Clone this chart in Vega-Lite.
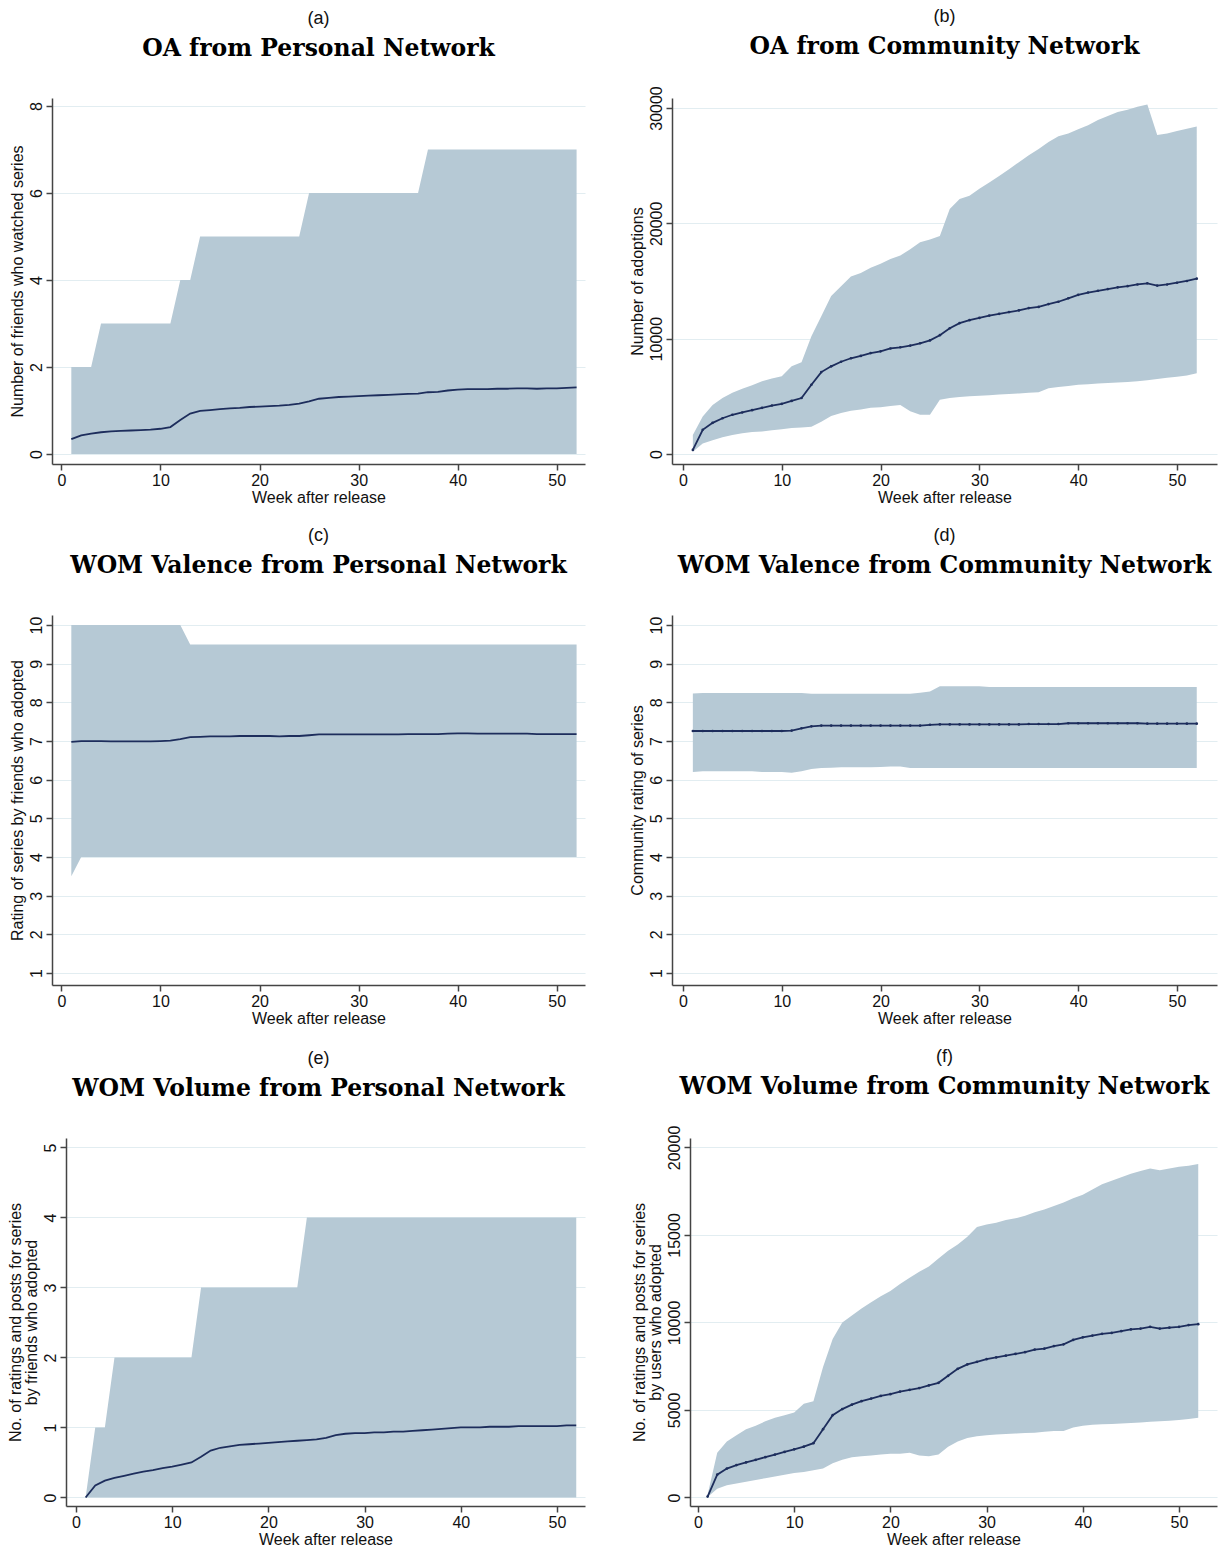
{
"$schema": "https://vega.github.io/schema/vega-lite/v6.json",
"background": "white",
"padding": {"left": 7, "top": 8, "right": 4, "bottom": 0},
"config": {
 "view": {"stroke": null},
 "title": {"font": "Liberation Sans", "fontSize": 18, "fontWeight": "normal", "color": "#111", "subtitleFont": "DejaVu Serif", "subtitleFontSize": 23.5, "subtitleFontWeight": "bold", "subtitleColor": "#000", "subtitlePadding": 9, "anchor": "middle", "frame": "group", "offset": 38},
 "axis": {"labelFont": "Liberation Sans", "titleFont": "Liberation Sans", "labelFontSize": 16, "titleFontSize": 16, "titleFontWeight": "normal", "labelColor": "#111", "titleColor": "#111", "domainColor": "#444", "tickColor": "#444", "domainWidth": 1.5, "tickWidth": 1.5, "tickSize": 6, "gridColor": "#e2edf1", "gridWidth": 1.2},
 "axisX": {"grid": false, "labelPadding": 2, "titlePadding": 1},
 "axisY": {"grid": true, "labelAngle": 270, "labelAlign": "center", "labelBaseline": "bottom", "labelPadding": 2, "titlePadding": 5, "minExtent": 22, "maxExtent": 22, "titleLineHeight": 16}
},
"datasets": {
 "a": [
  {"w":1,"lo":0,"hi":2,"m":0.34},{"w":2,"lo":0,"hi":2,"m":0.43},{"w":3,"lo":0,"hi":2,"m":0.47},{"w":4,"lo":0,"hi":3,"m":0.5},{"w":5,"lo":0,"hi":3,"m":0.52},{"w":6,"lo":0,"hi":3,"m":0.53},{"w":7,"lo":0,"hi":3,"m":0.54},{"w":8,"lo":0,"hi":3,"m":0.55},{"w":9,"lo":0,"hi":3,"m":0.56},{"w":10,"lo":0,"hi":3,"m":0.58},
  {"w":11,"lo":0,"hi":3,"m":0.62},{"w":12,"lo":0,"hi":4,"m":0.78},{"w":13,"lo":0,"hi":4,"m":0.93},{"w":14,"lo":0,"hi":5,"m":0.99},{"w":15,"lo":0,"hi":5,"m":1.01},{"w":16,"lo":0,"hi":5,"m":1.03},{"w":17,"lo":0,"hi":5,"m":1.05},{"w":18,"lo":0,"hi":5,"m":1.06},{"w":19,"lo":0,"hi":5,"m":1.08},{"w":20,"lo":0,"hi":5,"m":1.09},
  {"w":21,"lo":0,"hi":5,"m":1.1},{"w":22,"lo":0,"hi":5,"m":1.11},{"w":23,"lo":0,"hi":5,"m":1.13},{"w":24,"lo":0,"hi":5,"m":1.16},{"w":25,"lo":0,"hi":6,"m":1.21},{"w":26,"lo":0,"hi":6,"m":1.27},{"w":27,"lo":0,"hi":6,"m":1.29},{"w":28,"lo":0,"hi":6,"m":1.31},{"w":29,"lo":0,"hi":6,"m":1.32},{"w":30,"lo":0,"hi":6,"m":1.33},
  {"w":31,"lo":0,"hi":6,"m":1.34},{"w":32,"lo":0,"hi":6,"m":1.35},{"w":33,"lo":0,"hi":6,"m":1.36},{"w":34,"lo":0,"hi":6,"m":1.37},{"w":35,"lo":0,"hi":6,"m":1.38},{"w":36,"lo":0,"hi":6,"m":1.39},{"w":37,"lo":0,"hi":7,"m":1.42},{"w":38,"lo":0,"hi":7,"m":1.43},{"w":39,"lo":0,"hi":7,"m":1.46},{"w":40,"lo":0,"hi":7,"m":1.48},
  {"w":41,"lo":0,"hi":7,"m":1.49},{"w":42,"lo":0,"hi":7,"m":1.49},{"w":43,"lo":0,"hi":7,"m":1.49},{"w":44,"lo":0,"hi":7,"m":1.5},{"w":45,"lo":0,"hi":7,"m":1.5},{"w":46,"lo":0,"hi":7,"m":1.51},{"w":47,"lo":0,"hi":7,"m":1.51},{"w":48,"lo":0,"hi":7,"m":1.5},{"w":49,"lo":0,"hi":7,"m":1.51},{"w":50,"lo":0,"hi":7,"m":1.51},
  {"w":51,"lo":0,"hi":7,"m":1.52},{"w":52,"lo":0,"hi":7,"m":1.53}
 ],
 "b": [
  {"w":1,"lo":200,"hi":1650,"m":350},{"w":2,"lo":900,"hi":3250,"m":2100},{"w":3,"lo":1200,"hi":4250,"m":2700},{"w":4,"lo":1450,"hi":4850,"m":3100},{"w":5,"lo":1650,"hi":5300,"m":3400},{"w":6,"lo":1800,"hi":5650,"m":3600},{"w":7,"lo":1900,"hi":5950,"m":3800},{"w":8,"lo":1950,"hi":6300,"m":4000},{"w":9,"lo":2050,"hi":6550,"m":4200},{"w":10,"lo":2150,"hi":6750,"m":4350},
  {"w":11,"lo":2250,"hi":7600,"m":4600},{"w":12,"lo":2300,"hi":7950,"m":4850},{"w":13,"lo":2350,"hi":10200,"m":6000},{"w":14,"lo":2800,"hi":11950,"m":7100},{"w":15,"lo":3300,"hi":13700,"m":7600},{"w":16,"lo":3550,"hi":14550,"m":8000},{"w":17,"lo":3750,"hi":15400,"m":8300},{"w":18,"lo":3850,"hi":15700,"m":8500},{"w":19,"lo":4000,"hi":16150,"m":8750},{"w":20,"lo":4050,"hi":16500,"m":8900},
  {"w":21,"lo":4150,"hi":16900,"m":9150},{"w":22,"lo":4250,"hi":17200,"m":9250},{"w":23,"lo":3700,"hi":17750,"m":9400},{"w":24,"lo":3400,"hi":18350,"m":9600},{"w":25,"lo":3400,"hi":18600,"m":9850},{"w":26,"lo":4700,"hi":18900,"m":10300},{"w":27,"lo":4850,"hi":21250,"m":10900},{"w":28,"lo":4950,"hi":22100,"m":11350},{"w":29,"lo":5000,"hi":22400,"m":11600},{"w":30,"lo":5050,"hi":23000,"m":11800},
  {"w":31,"lo":5100,"hi":23550,"m":12000},{"w":32,"lo":5150,"hi":24100,"m":12150},{"w":33,"lo":5200,"hi":24700,"m":12300},{"w":34,"lo":5250,"hi":25300,"m":12450},{"w":35,"lo":5300,"hi":25900,"m":12650},{"w":36,"lo":5350,"hi":26450,"m":12750},{"w":37,"lo":5700,"hi":27050,"m":13000},{"w":38,"lo":5800,"hi":27550,"m":13200},{"w":39,"lo":5900,"hi":27800,"m":13500},{"w":40,"lo":6000,"hi":28150,"m":13800},
  {"w":41,"lo":6050,"hi":28500,"m":14000},{"w":42,"lo":6100,"hi":28950,"m":14150},{"w":43,"lo":6150,"hi":29300,"m":14300},{"w":44,"lo":6200,"hi":29650,"m":14450},{"w":45,"lo":6250,"hi":29850,"m":14550},{"w":46,"lo":6300,"hi":30100,"m":14700},{"w":47,"lo":6400,"hi":30300,"m":14800},{"w":48,"lo":6500,"hi":27650,"m":14600},{"w":49,"lo":6600,"hi":27800,"m":14700},{"w":50,"lo":6700,"hi":28000,"m":14850},
  {"w":51,"lo":6800,"hi":28200,"m":15000},{"w":52,"lo":7000,"hi":28400,"m":15200}
 ],
 "c": [
  {"w":1,"lo":3.5,"hi":10,"m":6.98},{"w":2,"lo":4,"hi":10,"m":7.0},{"w":3,"lo":4,"hi":10,"m":7.0},{"w":4,"lo":4,"hi":10,"m":7.0},{"w":5,"lo":4,"hi":10,"m":6.99},{"w":6,"lo":4,"hi":10,"m":6.99},{"w":7,"lo":4,"hi":10,"m":6.99},{"w":8,"lo":4,"hi":10,"m":6.99},{"w":9,"lo":4,"hi":10,"m":6.99},{"w":10,"lo":4,"hi":10,"m":7.0},
  {"w":11,"lo":4,"hi":10,"m":7.01},{"w":12,"lo":4,"hi":10,"m":7.05},{"w":13,"lo":4,"hi":9.5,"m":7.1},{"w":14,"lo":4,"hi":9.5,"m":7.11},{"w":15,"lo":4,"hi":9.5,"m":7.12},{"w":16,"lo":4,"hi":9.5,"m":7.12},{"w":17,"lo":4,"hi":9.5,"m":7.12},{"w":18,"lo":4,"hi":9.5,"m":7.13},{"w":19,"lo":4,"hi":9.5,"m":7.13},{"w":20,"lo":4,"hi":9.5,"m":7.13},
  {"w":21,"lo":4,"hi":9.5,"m":7.13},{"w":22,"lo":4,"hi":9.5,"m":7.12},{"w":23,"lo":4,"hi":9.5,"m":7.13},{"w":24,"lo":4,"hi":9.5,"m":7.13},{"w":25,"lo":4,"hi":9.5,"m":7.15},{"w":26,"lo":4,"hi":9.5,"m":7.17},{"w":27,"lo":4,"hi":9.5,"m":7.17},{"w":28,"lo":4,"hi":9.5,"m":7.17},{"w":29,"lo":4,"hi":9.5,"m":7.17},{"w":30,"lo":4,"hi":9.5,"m":7.17},
  {"w":31,"lo":4,"hi":9.5,"m":7.17},{"w":32,"lo":4,"hi":9.5,"m":7.17},{"w":33,"lo":4,"hi":9.5,"m":7.17},{"w":34,"lo":4,"hi":9.5,"m":7.17},{"w":35,"lo":4,"hi":9.5,"m":7.18},{"w":36,"lo":4,"hi":9.5,"m":7.18},{"w":37,"lo":4,"hi":9.5,"m":7.18},{"w":38,"lo":4,"hi":9.5,"m":7.18},{"w":39,"lo":4,"hi":9.5,"m":7.19},{"w":40,"lo":4,"hi":9.5,"m":7.2},
  {"w":41,"lo":4,"hi":9.5,"m":7.2},{"w":42,"lo":4,"hi":9.5,"m":7.19},{"w":43,"lo":4,"hi":9.5,"m":7.19},{"w":44,"lo":4,"hi":9.5,"m":7.19},{"w":45,"lo":4,"hi":9.5,"m":7.19},{"w":46,"lo":4,"hi":9.5,"m":7.19},{"w":47,"lo":4,"hi":9.5,"m":7.19},{"w":48,"lo":4,"hi":9.5,"m":7.18},{"w":49,"lo":4,"hi":9.5,"m":7.18},{"w":50,"lo":4,"hi":9.5,"m":7.18},
  {"w":51,"lo":4,"hi":9.5,"m":7.18},{"w":52,"lo":4,"hi":9.5,"m":7.18}
 ],
 "d": [
  {"w":1,"lo":6.2,"hi":8.23,"m":7.26},{"w":2,"lo":6.22,"hi":8.24,"m":7.26},{"w":3,"lo":6.22,"hi":8.24,"m":7.26},{"w":4,"lo":6.22,"hi":8.24,"m":7.26},{"w":5,"lo":6.22,"hi":8.24,"m":7.26},{"w":6,"lo":6.22,"hi":8.24,"m":7.26},{"w":7,"lo":6.22,"hi":8.24,"m":7.26},{"w":8,"lo":6.2,"hi":8.24,"m":7.26},{"w":9,"lo":6.2,"hi":8.24,"m":7.26},{"w":10,"lo":6.2,"hi":8.24,"m":7.26},
  {"w":11,"lo":6.18,"hi":8.24,"m":7.27},{"w":12,"lo":6.22,"hi":8.24,"m":7.33},{"w":13,"lo":6.28,"hi":8.22,"m":7.38},{"w":14,"lo":6.3,"hi":8.22,"m":7.4},{"w":15,"lo":6.31,"hi":8.22,"m":7.4},{"w":16,"lo":6.32,"hi":8.22,"m":7.4},{"w":17,"lo":6.32,"hi":8.22,"m":7.4},{"w":18,"lo":6.32,"hi":8.22,"m":7.4},{"w":19,"lo":6.32,"hi":8.22,"m":7.4},{"w":20,"lo":6.33,"hi":8.22,"m":7.4},
  {"w":21,"lo":6.34,"hi":8.22,"m":7.4},{"w":22,"lo":6.34,"hi":8.22,"m":7.4},{"w":23,"lo":6.3,"hi":8.22,"m":7.4},{"w":24,"lo":6.3,"hi":8.25,"m":7.4},{"w":25,"lo":6.3,"hi":8.28,"m":7.42},{"w":26,"lo":6.3,"hi":8.42,"m":7.43},{"w":27,"lo":6.3,"hi":8.42,"m":7.43},{"w":28,"lo":6.3,"hi":8.42,"m":7.43},{"w":29,"lo":6.3,"hi":8.42,"m":7.43},{"w":30,"lo":6.3,"hi":8.42,"m":7.43},
  {"w":31,"lo":6.3,"hi":8.4,"m":7.43},{"w":32,"lo":6.3,"hi":8.4,"m":7.43},{"w":33,"lo":6.3,"hi":8.4,"m":7.43},{"w":34,"lo":6.3,"hi":8.4,"m":7.43},{"w":35,"lo":6.3,"hi":8.4,"m":7.44},{"w":36,"lo":6.3,"hi":8.4,"m":7.44},{"w":37,"lo":6.3,"hi":8.4,"m":7.44},{"w":38,"lo":6.3,"hi":8.4,"m":7.44},{"w":39,"lo":6.3,"hi":8.4,"m":7.46},{"w":40,"lo":6.3,"hi":8.4,"m":7.46},
  {"w":41,"lo":6.3,"hi":8.4,"m":7.46},{"w":42,"lo":6.3,"hi":8.4,"m":7.46},{"w":43,"lo":6.3,"hi":8.4,"m":7.46},{"w":44,"lo":6.3,"hi":8.4,"m":7.46},{"w":45,"lo":6.3,"hi":8.4,"m":7.46},{"w":46,"lo":6.3,"hi":8.4,"m":7.46},{"w":47,"lo":6.3,"hi":8.4,"m":7.45},{"w":48,"lo":6.3,"hi":8.4,"m":7.45},{"w":49,"lo":6.3,"hi":8.4,"m":7.45},{"w":50,"lo":6.3,"hi":8.4,"m":7.45},
  {"w":51,"lo":6.3,"hi":8.4,"m":7.45},{"w":52,"lo":6.3,"hi":8.4,"m":7.45}
 ],
 "e": [
  {"w":1,"lo":0,"hi":0,"m":0},{"w":2,"lo":0,"hi":1,"m":0.17},{"w":3,"lo":0,"hi":1,"m":0.24},{"w":4,"lo":0,"hi":2,"m":0.28},{"w":5,"lo":0,"hi":2,"m":0.31},{"w":6,"lo":0,"hi":2,"m":0.34},{"w":7,"lo":0,"hi":2,"m":0.37},{"w":8,"lo":0,"hi":2,"m":0.39},{"w":9,"lo":0,"hi":2,"m":0.42},{"w":10,"lo":0,"hi":2,"m":0.44},
  {"w":11,"lo":0,"hi":2,"m":0.47},{"w":12,"lo":0,"hi":2,"m":0.5},{"w":13,"lo":0,"hi":3,"m":0.58},{"w":14,"lo":0,"hi":3,"m":0.67},{"w":15,"lo":0,"hi":3,"m":0.71},{"w":16,"lo":0,"hi":3,"m":0.73},{"w":17,"lo":0,"hi":3,"m":0.75},{"w":18,"lo":0,"hi":3,"m":0.76},{"w":19,"lo":0,"hi":3,"m":0.77},{"w":20,"lo":0,"hi":3,"m":0.78},
  {"w":21,"lo":0,"hi":3,"m":0.79},{"w":22,"lo":0,"hi":3,"m":0.8},{"w":23,"lo":0,"hi":3,"m":0.81},{"w":24,"lo":0,"hi":4,"m":0.82},{"w":25,"lo":0,"hi":4,"m":0.83},{"w":26,"lo":0,"hi":4,"m":0.85},{"w":27,"lo":0,"hi":4,"m":0.89},{"w":28,"lo":0,"hi":4,"m":0.91},{"w":29,"lo":0,"hi":4,"m":0.92},{"w":30,"lo":0,"hi":4,"m":0.92},
  {"w":31,"lo":0,"hi":4,"m":0.93},{"w":32,"lo":0,"hi":4,"m":0.93},{"w":33,"lo":0,"hi":4,"m":0.94},{"w":34,"lo":0,"hi":4,"m":0.94},{"w":35,"lo":0,"hi":4,"m":0.95},{"w":36,"lo":0,"hi":4,"m":0.96},{"w":37,"lo":0,"hi":4,"m":0.97},{"w":38,"lo":0,"hi":4,"m":0.98},{"w":39,"lo":0,"hi":4,"m":0.99},{"w":40,"lo":0,"hi":4,"m":1.0},
  {"w":41,"lo":0,"hi":4,"m":1.0},{"w":42,"lo":0,"hi":4,"m":1.0},{"w":43,"lo":0,"hi":4,"m":1.01},{"w":44,"lo":0,"hi":4,"m":1.01},{"w":45,"lo":0,"hi":4,"m":1.01},{"w":46,"lo":0,"hi":4,"m":1.02},{"w":47,"lo":0,"hi":4,"m":1.02},{"w":48,"lo":0,"hi":4,"m":1.02},{"w":49,"lo":0,"hi":4,"m":1.02},{"w":50,"lo":0,"hi":4,"m":1.02},
  {"w":51,"lo":0,"hi":4,"m":1.03},{"w":52,"lo":0,"hi":4,"m":1.03}
 ],
 "f": [
  {"w":1,"lo":20,"hi":150,"m":50},{"w":2,"lo":500,"hi":2550,"m":1300},{"w":3,"lo":700,"hi":3200,"m":1650},{"w":4,"lo":800,"hi":3550,"m":1850},{"w":5,"lo":900,"hi":3900,"m":2000},{"w":6,"lo":1000,"hi":4100,"m":2150},{"w":7,"lo":1100,"hi":4350,"m":2300},{"w":8,"lo":1200,"hi":4550,"m":2450},{"w":9,"lo":1300,"hi":4700,"m":2600},{"w":10,"lo":1400,"hi":4850,"m":2750},
  {"w":11,"lo":1450,"hi":5350,"m":2900},{"w":12,"lo":1550,"hi":5500,"m":3100},{"w":13,"lo":1650,"hi":7450,"m":3900},{"w":14,"lo":1950,"hi":9050,"m":4700},{"w":15,"lo":2150,"hi":10000,"m":5050},{"w":16,"lo":2300,"hi":10400,"m":5300},{"w":17,"lo":2350,"hi":10800,"m":5500},{"w":18,"lo":2400,"hi":11150,"m":5650},{"w":19,"lo":2450,"hi":11500,"m":5800},{"w":20,"lo":2500,"hi":11800,"m":5900},
  {"w":21,"lo":2500,"hi":12200,"m":6050},{"w":22,"lo":2550,"hi":12550,"m":6150},{"w":23,"lo":2400,"hi":12900,"m":6250},{"w":24,"lo":2350,"hi":13200,"m":6400},{"w":25,"lo":2450,"hi":13650,"m":6550},{"w":26,"lo":2900,"hi":14100,"m":6950},{"w":27,"lo":3200,"hi":14450,"m":7350},{"w":28,"lo":3400,"hi":14900,"m":7600},{"w":29,"lo":3500,"hi":15450,"m":7750},{"w":30,"lo":3550,"hi":15600,"m":7900},
  {"w":31,"lo":3600,"hi":15700,"m":8000},{"w":32,"lo":3620,"hi":15850,"m":8100},{"w":33,"lo":3650,"hi":15950,"m":8200},{"w":34,"lo":3680,"hi":16100,"m":8300},{"w":35,"lo":3700,"hi":16300,"m":8450},{"w":36,"lo":3750,"hi":16450,"m":8500},{"w":37,"lo":3800,"hi":16650,"m":8650},{"w":38,"lo":3800,"hi":16850,"m":8750},{"w":39,"lo":4000,"hi":17100,"m":9000},{"w":40,"lo":4100,"hi":17300,"m":9150},
  {"w":41,"lo":4150,"hi":17600,"m":9250},{"w":42,"lo":4180,"hi":17900,"m":9350},{"w":43,"lo":4200,"hi":18100,"m":9400},{"w":44,"lo":4230,"hi":18300,"m":9500},{"w":45,"lo":4250,"hi":18500,"m":9600},{"w":46,"lo":4280,"hi":18650,"m":9650},{"w":47,"lo":4320,"hi":18800,"m":9750},{"w":48,"lo":4350,"hi":18700,"m":9650},{"w":49,"lo":4380,"hi":18800,"m":9700},{"w":50,"lo":4420,"hi":18900,"m":9750},
  {"w":51,"lo":4480,"hi":18950,"m":9850},{"w":52,"lo":4550,"hi":19050,"m":9900}
 ]
},
"columns": 2,
"spacing": {"row": 21, "column": 44},
"concat": [
  {"width": 533, "height": 366, "data": {"name": "a"},
   "title": {"text": "(a)", "subtitle": "OA from Personal Network"},
   "encoding": {"x": {"field": "w", "type": "quantitative", "scale": {"domain": [-0.95, 52.85], "nice": false, "zero": false}, "axis": {"values": [0,10,20,30,40,50], "title": "Week after release"}}},
   "layer": [
    {"mark": {"type": "area", "color": "#b6c9d5", "opacity": 1}, "encoding": {"y": {"field": "lo", "type": "quantitative", "scale": {"domain": [-0.23, 8.184], "nice": false, "zero": false}, "axis": {"values": [0,2,4,6,8], "title": "Number of friends who watched series"}}, "y2": {"field": "hi"}}},
    {"mark": {"type": "line", "color": "#1d2d5c", "strokeWidth": 1.8}, "encoding": {"y": {"field": "m", "type": "quantitative", "scale": {"domain": [-0.23, 8.184], "nice": false, "zero": false}, "axis": {"values": [0,2,4,6,8], "title": "Number of friends who watched series"}}}}
   ]},
  {"width": 545, "height": 366, "data": {"name": "b"},
   "title": {"text": "(b)", "subtitle": "OA from Community Network", "offset": 27},
   "encoding": {"x": {"field": "w", "type": "quantitative", "scale": {"domain": [-1.11, 54.05], "nice": false, "zero": false}, "axis": {"values": [0,10,20,30,40,50], "title": "Week after release"}}},
   "layer": [
    {"mark": {"type": "area", "color": "#b6c9d5", "opacity": 1}, "encoding": {"y": {"field": "lo", "type": "quantitative", "scale": {"domain": [-870, 30868], "nice": false, "zero": false}, "axis": {"values": [0,10000,20000,30000], "format": "d", "title": "Number of adoptions"}}, "y2": {"field": "hi"}}},
    {"mark": {"type": "line", "color": "#1d2d5c", "strokeWidth": 1.8}, "encoding": {"y": {"field": "m", "type": "quantitative", "scale": {"domain": [-870, 30868], "nice": false, "zero": false}, "axis": {"values": [0,10000,20000,30000], "format": "d", "title": "Number of adoptions"}}}},
    {"mark": {"type": "point", "filled": true, "color": "#1d2d5c", "size": 7, "opacity": 1}, "encoding": {"y": {"field": "m", "type": "quantitative", "scale": {"domain": [-870, 30868], "nice": false, "zero": false}, "axis": {"values": [0,10000,20000,30000], "format": "d", "title": "Number of adoptions"}}}}
   ]},
  {"width": 533, "height": 370, "data": {"name": "c"},
   "title": {"text": "(c)", "subtitle": "WOM Valence from Personal Network"},
   "encoding": {"x": {"field": "w", "type": "quantitative", "scale": {"domain": [-0.95, 52.85], "nice": false, "zero": false}, "axis": {"values": [0,10,20,30,40,50], "title": "Week after release"}}},
   "layer": [
    {"mark": {"type": "area", "color": "#b6c9d5", "opacity": 1}, "encoding": {"y": {"field": "lo", "type": "quantitative", "scale": {"domain": [0.69, 10.26], "nice": false, "zero": false}, "axis": {"values": [1,2,3,4,5,6,7,8,9,10], "title": "Rating of series by friends who adopted"}}, "y2": {"field": "hi"}}},
    {"mark": {"type": "line", "color": "#1d2d5c", "strokeWidth": 1.8}, "encoding": {"y": {"field": "m", "type": "quantitative", "scale": {"domain": [0.69, 10.26], "nice": false, "zero": false}, "axis": {"values": [1,2,3,4,5,6,7,8,9,10], "title": "Rating of series by friends who adopted"}}}}
   ]},
  {"width": 545, "height": 370, "data": {"name": "d"},
   "title": {"text": "(d)", "subtitle": "WOM Valence from Community Network"},
   "encoding": {"x": {"field": "w", "type": "quantitative", "scale": {"domain": [-1.11, 54.05], "nice": false, "zero": false}, "axis": {"values": [0,10,20,30,40,50], "title": "Week after release"}}},
   "layer": [
    {"mark": {"type": "area", "color": "#b6c9d5", "opacity": 1}, "encoding": {"y": {"field": "lo", "type": "quantitative", "scale": {"domain": [0.69, 10.26], "nice": false, "zero": false}, "axis": {"values": [1,2,3,4,5,6,7,8,9,10], "title": "Community rating of series"}}, "y2": {"field": "hi"}}},
    {"mark": {"type": "line", "color": "#1d2d5c", "strokeWidth": 1.8}, "encoding": {"y": {"field": "m", "type": "quantitative", "scale": {"domain": [0.69, 10.26], "nice": false, "zero": false}, "axis": {"values": [1,2,3,4,5,6,7,8,9,10], "title": "Community rating of series"}}}},
    {"mark": {"type": "point", "filled": true, "color": "#1d2d5c", "size": 7, "opacity": 1}, "encoding": {"y": {"field": "m", "type": "quantitative", "scale": {"domain": [0.69, 10.26], "nice": false, "zero": false}, "axis": {"values": [1,2,3,4,5,6,7,8,9,10], "title": "Community rating of series"}}}}
   ]},
  {"width": 533, "height": 368, "data": {"name": "e"},
   "title": {"text": "(e)", "subtitle": "WOM Volume from Personal Network"},
   "encoding": {"x": {"field": "w", "type": "quantitative", "scale": {"domain": [-1.04, 52.91], "range": [14, 533], "nice": false, "zero": false}, "axis": {"values": [0,10,20,30,40,50], "title": "Week after release"}}},
   "layer": [
    {"mark": {"type": "area", "color": "#b6c9d5", "opacity": 1}, "encoding": {"y": {"field": "lo", "type": "quantitative", "scale": {"domain": [-0.122, 5.135], "nice": false, "zero": false}, "axis": {"values": [0,1,2,3,4,5], "offset": -14, "title": ["No. of ratings and posts for series", "by friends who adopted"]}}, "y2": {"field": "hi"}}},
    {"mark": {"type": "line", "color": "#1d2d5c", "strokeWidth": 1.8}, "encoding": {"y": {"field": "m", "type": "quantitative", "scale": {"domain": [-0.122, 5.135], "nice": false, "zero": false}, "axis": {"values": [0,1,2,3,4,5], "offset": -14, "title": ["No. of ratings and posts for series", "by friends who adopted"]}}}}
   ]},
  {"width": 545, "height": 368, "data": {"name": "f"},
   "title": {"text": "(f)", "subtitle": "WOM Volume from Community Network", "offset": 27},
   "encoding": {"x": {"field": "w", "type": "quantitative", "scale": {"domain": [-0.83, 53.95], "range": [18, 545], "nice": false, "zero": false}, "axis": {"values": [0,10,20,30,40,50], "title": "Week after release"}}},
   "layer": [
    {"mark": {"type": "area", "color": "#b6c9d5", "opacity": 1}, "encoding": {"y": {"field": "lo", "type": "quantitative", "scale": {"domain": [-489, 20540], "nice": false, "zero": false}, "axis": {"values": [0,5000,10000,15000,20000], "format": "d", "offset": -18, "title": ["No. of ratings and posts for series", "by users who adopted"]}}, "y2": {"field": "hi"}}},
    {"mark": {"type": "line", "color": "#1d2d5c", "strokeWidth": 1.8}, "encoding": {"y": {"field": "m", "type": "quantitative", "scale": {"domain": [-489, 20540], "nice": false, "zero": false}, "axis": {"values": [0,5000,10000,15000,20000], "format": "d", "offset": -18, "title": ["No. of ratings and posts for series", "by users who adopted"]}}}},
    {"mark": {"type": "point", "filled": true, "color": "#1d2d5c", "size": 7, "opacity": 1}, "encoding": {"y": {"field": "m", "type": "quantitative", "scale": {"domain": [-489, 20540], "nice": false, "zero": false}, "axis": {"values": [0,5000,10000,15000,20000], "format": "d", "offset": -18, "title": ["No. of ratings and posts for series", "by users who adopted"]}}}}
   ]}
]
}
